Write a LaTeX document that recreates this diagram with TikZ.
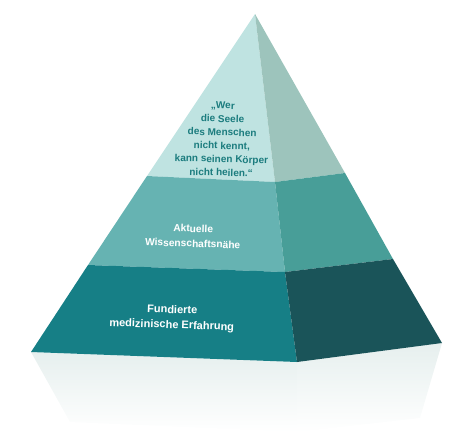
\documentclass[tikz,border=0pt]{standalone}
\usepackage{fontspec}
\setmainfont{Liberation Sans}
\usetikzlibrary{positioning}
\definecolor{topleft}{HTML}{BFE3E1}
\definecolor{topright}{HTML}{9DC4BC}
\definecolor{midleft}{HTML}{66B3B2}
\definecolor{midright}{HTML}{489E98}
\definecolor{botleft}{HTML}{167F86}
\definecolor{botright}{HTML}{1A5459}
\definecolor{quote}{HTML}{1B7C7E}
\definecolor{refl}{HTML}{E6EFEE}

\begin{document}
\begin{tikzpicture}[x=1pt,y=-1pt,
	every node/.style={align=center,inner sep=0pt}]
		\useasboundingbox (0,0) rectangle (470,440);
		
		% corners of the pyramid
		\coordinate (apex) at (255,14);
		\coordinate (L1) at (147,176);
		\coordinate (F1) at (275,182);
		\coordinate (R1) at (345,173);
		\coordinate (L2) at (88,265);
		\coordinate (F2) at (285,272);
		\coordinate (R2) at (393,259);
		\coordinate (L3) at (31,352);
		\coordinate (F3) at (297,362);
		\coordinate (R3) at (442,343);
		
		% draw reflection below the base
		\shade[top color=refl,bottom color=white] (L3) -- (F3) -- (297,432) -- (70,422) -- cycle;
		\shade[top color=refl,bottom color=white] (F3) -- (R3) -- (420,418) -- (297,432) -- cycle;
		
		% draw top layer
		\fill[topleft] (apex) -- (L1) -- (F1) -- cycle;
		\fill[topright] (apex) -- (F1) -- (R1) -- cycle;
		
		% draw middle layer
		\fill[midleft] (L1) -- (F1) -- (F2) -- (L2) -- cycle;
		\fill[midright] (F1) -- (R1) -- (R2) -- (F2) -- cycle;
		
		% draw bottom layer
		\fill[botleft] (L2) -- (F2) -- (F3) -- (L3) -- cycle;
		\fill[botright] (F2) -- (R2) -- (R3) -- (F3) -- cycle;
		
		% draw labels
		\node (quote) at (222,139) [text=quote,rotate=-1.5,font=\bfseries\fontsize{10}{13.4}\selectfont] {„Wer\\die Seele\\des Menschen\\nicht kennt,\\kann seinen Körper\\nicht heilen.“};
		\node (science) at (193,236) [text=white,rotate=-2,font=\bfseries\fontsize{10.2}{15}\selectfont] {Aktuelle\\Wissenschaftsnähe};
		\node (experience) at (172,318) [text=white,rotate=-2,font=\bfseries\fontsize{11}{15}\selectfont] {Fundierte\\medizinische Erfahrung};
	\end{tikzpicture}
\end{document}
